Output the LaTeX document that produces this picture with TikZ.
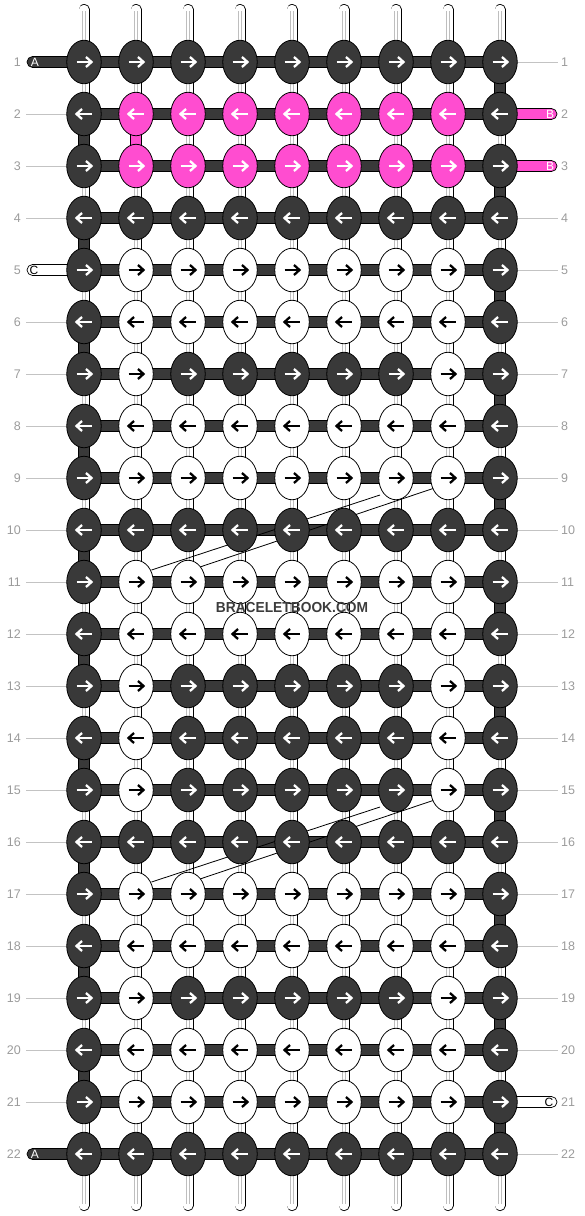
\documentclass[tikz,border=0pt]{standalone}
\usepackage{fontspec}
\setmainfont{Liberation Sans}
\usetikzlibrary{shapes.geometric}
\definecolor{dk}{RGB}{57,57,57}
\definecolor{pk}{RGB}{255,77,208}
\definecolor{lbl}{RGB}{155,155,155}
\definecolor{gln}{RGB}{195,195,195}
\definecolor{wgr}{RGB}{190,190,190}
\definecolor{wm}{RGB}{60,60,60}
\def\colD#1{dk}
\def\colP#1{\ifnum#1=1 dk\else\ifnum#1=9 dk\else pk\fi\fi}
\def\colW#1{\ifnum#1=1 dk\else\ifnum#1=9 dk\else white\fi\fi}
\def\colM#1{\ifnum#1=1 dk\else\ifnum#1=9 dk\else\ifnum#1=2 white\else\ifnum#1=8 white\else dk\fi\fi\fi\fi}
\def\whitename{white}
\begin{document}
\begin{tikzpicture}[x=1pt,y=-1pt,
  knot/.style={ellipse, draw=black, line width=0.8pt, minimum width=34.5pt, minimum height=43.5pt, inner sep=0pt},
  arr/.style={line width=2.3pt, line cap=butt, line join=miter},
  bar/.style={fill=dk, draw=black, line width=0.7pt},
  endstr/.style={draw=black, line width=0.7pt, rounded corners=5.5pt},
  rownum/.style={text=lbl, font=\fontsize{12.5}{12.5}\selectfont, inner sep=0pt},
  strlbl/.style={font=\fontsize{12}{12}\selectfont, inner sep=0pt},
  guide/.style={draw=gln, line width=0.8pt},
  diag/.style={draw=black, line width=0.8pt}]
\useasboundingbox (0,0) rectangle (584,1216);
% warp strings
\foreach \c in {1,...,9}{
  \pgfmathsetmacro\x{84+52*(\c-1)}
  \draw[line width=11pt, black, line cap=round] (\x,9.5) -- (\x,1205.5);
  \draw[line width=9.4pt, white, line cap=round] (\x,9.5) -- (\x,1205.5);
  \draw[line width=0.8pt, wgr] (\x-1.6,11) -- (\x-1.6,1204);
  \draw[line width=0.8pt, wgr] (\x+1.6,11) -- (\x+1.6,1204);
}
% guide lines and row numbers
\foreach \r in {1,...,22}{
  \pgfmathsetmacro\y{62+52*(\r-1)}
  \node[rownum, anchor=east] (ln-\r) at (21,\y) {\r};
  \node[rownum, anchor=west] (rn-\r) at (561,\y) {\r};
  \ifnum\r=1\relax\else\ifnum\r=5\relax\else\ifnum\r=22\relax\else
    \draw[guide] (26,\y) -- (84,\y);
  \fi\fi\fi
  \ifnum\r=2\relax\else\ifnum\r=3\relax\else\ifnum\r=21\relax\else
    \draw[guide] (500,\y) -- (558,\y);
  \fi\fi\fi
}
% end strings
\draw[endstr, fill=dk] (27,56.5) rectangle (84,67.5);
\node[strlbl, text=white] (sA1) at (35,62.5) {A};
\draw[endstr, fill=dk] (27,1148.5) rectangle (84,1159.5);
\node[strlbl, text=white] (sA2) at (35,1154.5) {A};
\draw[endstr, fill=white] (27,264.5) rectangle (84,275.5);
\node[strlbl, text=black] (sC1) at (34,270.5) {C};
\draw[endstr, fill=pk] (500,108.5) rectangle (557,119.5);
\node[strlbl, text=white] (sB1) at (550,114.5) {B};
\draw[endstr, fill=pk] (500,160.5) rectangle (557,171.5);
\node[strlbl, text=white] (sB2) at (550,166.5) {B};
\draw[endstr, fill=white] (500,1096.5) rectangle (557,1107.5);
\node[strlbl, text=black] (sC2) at (549,1102.5) {C};
% horizontal bars
\foreach \r in {1,...,22}{
  \pgfmathsetmacro\y{62+52*(\r-1)}
  \draw[bar] (84,\y-5.5) rectangle (500,\y+5.5);
}
% edge turns
\foreach \r in {2,4,...,20}{
  \pgfmathsetmacro\y{62+52*(\r-1)}
  \draw[bar] (78.5,\y) rectangle (89.5,\y+52);
}
\foreach \r in {1,3,...,21}{
  \pgfmathsetmacro\y{62+52*(\r-1)}
  \draw[bar] (494.5,\y) rectangle (505.5,\y+52);
}
\draw[bar, fill=pk] (130.5,114) rectangle (141.5,166);
% diagonal lines
\foreach \s in {0,312}{
  \draw[diag] (151.5,570+\s) -- (380,495+\s);
  \draw[diag] (200,567+\s) -- (433,488.5+\s);
}
% knots
\foreach \t [count=\r] in {D,P,P,D,W,W,M,W,W,D,W,W,M,M,M,D,W,W,M,W,W,D}{
  \foreach \c in {1,...,9}{
    \pgfmathsetmacro\x{84+52*(\c-1)}
    \pgfmathsetmacro\y{62+52*(\r-1)}
    \edef\kf{\csname col\t\endcsname{\c}}
    \ifx\kf\whitename \def\ka{black}\else\def\ka{white}\fi
    \ifodd\r \def\dir{1}\else\def\dir{-1}\fi
    \node[knot, fill=\kf] (k-\r-\c) at (\x,\y) {};
    \draw[arr, draw=\ka] ([xshift=-7.5*\dir pt]k-\r-\c.center) -- ([xshift=7.5*\dir pt]k-\r-\c.center);
    \draw[arr, draw=\ka] ([xshift=2*\dir pt, yshift=5pt]k-\r-\c.center) -- ([xshift=7.5*\dir pt]k-\r-\c.center) -- ([xshift=2*\dir pt, yshift=-5pt]k-\r-\c.center);
  }
}
\node[font=\bfseries\fontsize{14.5}{14.5}\selectfont, text=wm, inner sep=0pt, xscale=0.95] (wmark) at (292,607.5) {BRACELETBOOK.COM};
\end{tikzpicture}
\end{document}
